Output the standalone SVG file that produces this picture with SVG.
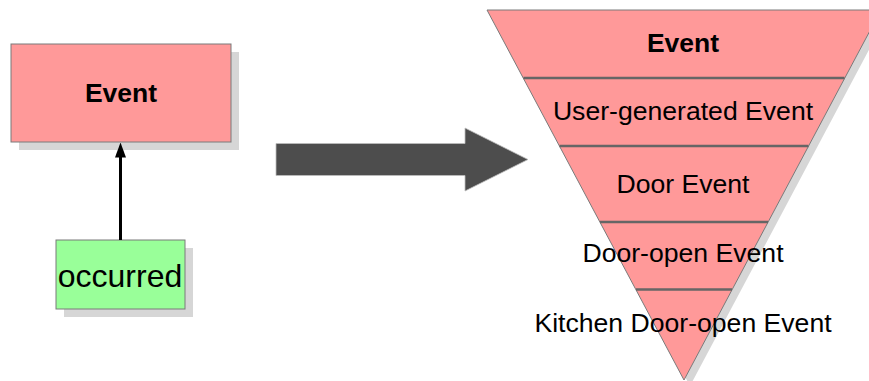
<svg xmlns="http://www.w3.org/2000/svg" width="869" height="381" viewBox="0 0 869 381">
  <style>
    .shadow { fill: #d6d6d6; }
    .red { fill: #ff9999; stroke: #7a7a7a; stroke-width: 1; }
    .green { fill: #99ff99; stroke: #7a7a7a; stroke-width: 1; }
    .sep { stroke: #666666; stroke-width: 2.5; }
    .bold { font-family: "Liberation Sans", Arial, sans-serif; font-weight: bold; font-size: 26.5px; fill: #000; text-anchor: middle; }
    .label { font-family: "Liberation Sans", Arial, sans-serif; font-size: 26.6px; fill: #000; text-anchor: middle; }
    .conn { stroke: #000; stroke-width: 3; fill: none; }
  </style>
  <defs>
    <marker id="arrowhead" markerWidth="15" markerHeight="11" refX="7.5" refY="5.5" orient="auto" markerUnits="userSpaceOnUse" viewBox="0 0 15 11">
      <path d="M0,0 L15,5.5 L0,11 Z" fill="#000"/>
    </marker>
  </defs>

  <!-- Event class box -->
  <g id="event">
    <rect class="shadow" x="19" y="52" width="220" height="98"/>
    <rect class="red" x="11" y="44" width="220" height="98"/>
    <text class="bold" x="121" y="102">Event</text>
  </g>

  <!-- occurred attribute box -->
  <g id="occurred">
    <rect class="shadow" x="64" y="248" width="129" height="69"/>
    <rect class="green" x="56" y="240" width="129" height="69"/>
    <text class="label" x="120" y="287" style="font-size:32px">occurred</text>
  </g>

  <!-- connectors -->
  <g id="connectors">
    <line class="conn" x1="120.5" y1="240" x2="120.5" y2="150" marker-end="url(#arrowhead)"/>
  </g>

  <!-- transformation arrow -->
  <g id="transform-arrow">
    <polygon points="276,143.5 465,143.5 465,128 528,159.5 465,191 465,175.5 276,175.5" fill="#4d4d4d" stroke="#bdbdbd" stroke-width="0.8"/>
  </g>

  <!-- hierarchy funnel -->
  <g id="hierarchy">
    <polygon class="shadow" points="493,16 887,16 690,386"/>
    <polygon class="red" points="487,10 881,10 684,380"/>
    <line class="sep" x1="523.5" y1="78" x2="844.5" y2="78"/>
    <line class="sep" x1="559.5" y1="146" x2="808.5" y2="146"/>
    <line class="sep" x1="600" y1="222" x2="768" y2="222"/>
    <line class="sep" x1="636" y1="289.5" x2="732" y2="289.5"/>
    <text class="bold" x="683" y="52">Event</text>
    <text class="label" x="683" y="120">User-generated Event</text>
    <text class="label" x="683" y="193">Door Event</text>
    <text class="label" x="683" y="262">Door-open Event</text>
    <text class="label" x="683" y="332">Kitchen Door-open Event</text>
  </g>
</svg>
